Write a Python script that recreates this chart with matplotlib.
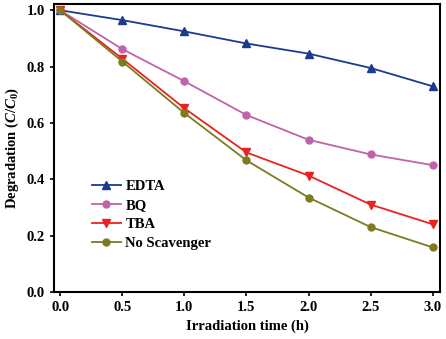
import matplotlib
matplotlib.use('Agg')
import matplotlib.pyplot as plt

# irradiation time (h)
time = [0.0, 0.5, 1.0, 1.5, 2.0, 2.5, 3.0]

# C/C0 for each scavenger
edta = [1.0, 0.965, 0.925, 0.882, 0.846, 0.795, 0.730]
bq = [1.0, 0.862, 0.748, 0.628, 0.540, 0.488, 0.450]
tba = [1.0, 0.828, 0.652, 0.495, 0.413, 0.310, 0.240]
no_scav = [1.0, 0.818, 0.635, 0.467, 0.335, 0.230, 0.158]

plt.rcParams['font.family'] = ['Liberation Serif', 'DejaVu Serif']
plt.rcParams['font.weight'] = 'bold'
plt.rcParams['mathtext.fontset'] = 'custom'
plt.rcParams['mathtext.rm'] = 'Liberation Serif:bold'
plt.rcParams['mathtext.it'] = 'Liberation Serif:italic:bold'
plt.rcParams['mathtext.bf'] = 'Liberation Serif:bold'

fig = plt.figure(figsize=(4.46, 3.39), dpi=100)
ax = fig.add_axes([0.121, 0.139, 0.866, 0.849])

ax.plot(time, edta, '-^', color='#1c3a8e', lw=1.3, ms=5.5, label='EDTA')
ax.plot(time, bq, '-o', color='#c063a9', lw=1.3, ms=5, label='BQ')
ax.plot(time, tba, '-v', color='#ea2320', lw=1.3, ms=5.5, label='TBA')
ax.plot(time, no_scav, '-o', color='#7d7a20', lw=1.3, ms=5, label='No Scavenger')

ax.set_xlim(-0.05, 3.06)
ax.set_ylim(0, 1.022)
ax.set_xticks([0.0, 0.5, 1.0, 1.5, 2.0, 2.5, 3.0])
ax.set_yticks([0.0, 0.2, 0.4, 0.6, 0.8, 1.0])
ax.set_xticklabels(['%.1f' % v for v in ax.get_xticks()])
ax.set_yticklabels(['%.1f' % v for v in ax.get_yticks()])
ax.tick_params(direction='out', length=3, width=1.2, labelsize=10.5)
for s in ax.spines.values():
    s.set_linewidth(1.5)

ax.set_xlabel('Irradiation time (h)', fontsize=10.5, fontweight='bold', labelpad=4)
ax.set_ylabel(r'Degradation ($\mathit{C/C}_\mathbf{0}$)', fontsize=10.5, fontweight='bold', labelpad=4)

ax.legend(loc='lower left', bbox_to_anchor=(0.083, 0.125), frameon=False, fontsize=10.5,
          handlelength=2.0, handletextpad=0.3, labelspacing=0.4, borderaxespad=0)

fig.savefig('out.png', dpi=100)
